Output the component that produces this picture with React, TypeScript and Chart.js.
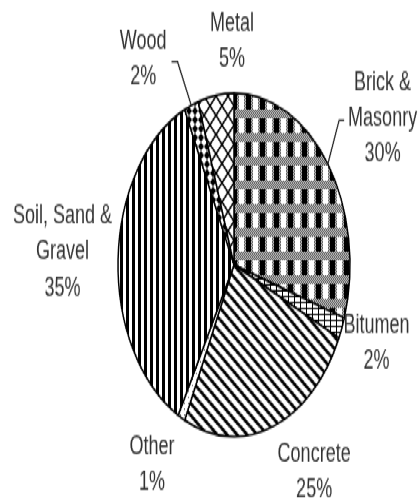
import { useEffect, useRef } from 'react';
import { Chart, registerables } from 'chart.js';

Chart.register(...registerables);

// ---- data ----
const categories = ['Brick & Masonry', 'Bitumen', 'Concrete', 'Other', 'Soil, Sand & Gravel', 'Wood', 'Metal'];
const values = [30, 2, 25, 1, 35, 2, 5];
const labelNames = [['Brick &', 'Masonry'], ['Bitumen'], ['Concrete'], ['Other'], ['Soil, Sand &', 'Gravel'], ['Wood'], ['Metal']];
const patternKinds = ['checker', 'grid', 'diag', 'dots', 'vert', 'diamond', 'trellis'];

// ---- label layout (degrees clockwise from 12 o'clock, multiple of radius) ----
const labelAngle = [56.3, 110.4, 150.2, 211.3, 272.9, 326.8, 359.2];
const labelDist = [1.54, 1.31, 1.39, 1.36, 1.48, 1.43, 1.3];
const leaderSide = [1, 0, 0, 0, 0, -1, 0];

const STRETCH = 1.48;
const W = 419;
const H = 340;
const RADIUS = 116;

function drawLineTiled(ctx: CanvasRenderingContext2D, w: number, h: number, x1: number, y1: number, x2: number, y2: number) {
  for (const dx of [-w, 0, w]) {
    for (const dy of [-h, 0, h]) {
      ctx.beginPath();
      ctx.moveTo(x1 + dx, y1 + dy);
      ctx.lineTo(x2 + dx, y2 + dy);
      ctx.stroke();
    }
  }
}

function makePattern(kind: string): CanvasPattern | string {
  const c = document.createElement('canvas');
  let w = 8;
  let h = 8;
  if (kind === 'checker') { w = 14; h = 16; }
  if (kind === 'grid') { w = 6; h = 4; }
  if (kind === 'diag') { w = 10; h = 8; }
  if (kind === 'dots') { w = 4; h = 4; }
  if (kind === 'vert') { w = 6; h = 4; }
  if (kind === 'diamond') { w = 6; h = 6; }
  if (kind === 'trellis') { w = 12; h = 13; }
  c.width = w;
  c.height = h;
  const ctx = c.getContext('2d');
  if (!ctx) return '#888';
  ctx.fillStyle = '#fff';
  ctx.fillRect(0, 0, w, h);
  ctx.fillStyle = '#000';
  ctx.strokeStyle = '#000';
  switch (kind) {
    case 'checker': {
      for (let y = 0; y < h; y++) {
        for (let x = 0; x < w; x++) {
          ctx.fillStyle = (x + y) % 2 ? '#4a4a4a' : '#d2d2d2';
          ctx.fillRect(x, y, 1, 1);
        }
      }
      ctx.fillStyle = '#fff';
      ctx.fillRect(1, 0, 5, 10);
      ctx.fillStyle = '#000';
      ctx.fillRect(8, 0, 5, 10);
      break;
    }
    case 'grid':
      ctx.fillRect(0, 0, w, 1);
      ctx.fillRect(0, 0, 1, h);
      break;
    case 'diag':
      ctx.lineWidth = 2.5;
      drawLineTiled(ctx, w, h, 0, 0, w, h);
      break;
    case 'dots':
      ctx.fillStyle = '#666';
      ctx.fillRect(0, 0, 1, 1);
      break;
    case 'vert':
      ctx.fillRect(0, 0, 3, h);
      break;
    case 'diamond':
      ctx.beginPath();
      ctx.moveTo(3, 0);
      ctx.lineTo(6, 3);
      ctx.lineTo(3, 6);
      ctx.lineTo(0, 3);
      ctx.closePath();
      ctx.fill();
      break;
    case 'trellis':
      ctx.lineWidth = 1.5;
      drawLineTiled(ctx, w, h, 0, 0, w, h);
      drawLineTiled(ctx, w, h, w, 0, 0, h);
      break;
  }
  return ctx.createPattern(c, 'repeat') || '#888';
}

const labelPlugin = {
  id: 'sliceLabels',
  afterDraw(chart: any) {
    const ctx: CanvasRenderingContext2D = chart.ctx;
    const meta = chart.getDatasetMeta(0);
    ctx.save();
    ctx.font = '18px "Liberation Sans", Arial, sans-serif';
    ctx.textAlign = 'center';
    ctx.textBaseline = 'middle';
    const lh = 24.3;
    meta.data.forEach((arc: any, i: number) => {
      const { x, y, startAngle, endAngle, outerRadius } = arc.getProps(['x', 'y', 'startAngle', 'endAngle', 'outerRadius'], true);
      const a = (labelAngle[i] * Math.PI) / 180 - Math.PI / 2;
      const cx = x + Math.cos(a) * outerRadius * labelDist[i];
      const cy = y + Math.sin(a) * outerRadius * labelDist[i];
      const lines = [...labelNames[i], `${values[i]}%`];
      const top = cy - ((lines.length - 1) * lh) / 2;
      ctx.fillStyle = '#333';
      lines.forEach((t, k) => ctx.fillText(t, cx, top + k * lh));
      if (leaderSide[i] !== 0) {
        const mid = (startAngle + endAngle) / 2;
        const px = x + Math.cos(mid) * outerRadius;
        const py = y + Math.sin(mid) * outerRadius;
        const maxW = Math.max(...lines.map((t) => ctx.measureText(t).width));
        let endX: number;
        let elbowX: number;
        if (leaderSide[i] > 0) {
          endX = cx - maxW / 2 - 4;
          elbowX = endX - 5;
        } else {
          endX = cx + maxW / 2 + 5;
          elbowX = endX + 6;
        }
        const ly = cy + 1.5;
        ctx.strokeStyle = '#222';
        ctx.lineWidth = 1.2;
        ctx.beginPath();
        ctx.moveTo(px, py);
        ctx.lineTo(elbowX, ly);
        ctx.lineTo(endX, ly);
        ctx.stroke();
      }
    });
    ctx.restore();
  },
};

export default function App() {
  const ref = useRef<HTMLCanvasElement>(null);
  useEffect(() => {
    if (!ref.current) return;
    const patterns = patternKinds.map((k) => makePattern(k));
    const chart = new Chart(ref.current, {
      type: 'pie',
      data: {
        labels: categories,
        datasets: [
          {
            data: values,
            backgroundColor: patterns as any,
            borderColor: '#000',
            borderWidth: 1.5,
            radius: RADIUS,
          } as any,
        ],
      },
      options: {
        responsive: false,
        animation: false,
        radius: RADIUS,
        events: [],
        layout: { padding: { left: 49, right: 0, top: 18, bottom: 0 } },
        plugins: { legend: { display: false }, tooltip: { enabled: false } },
      } as any,
      plugins: [labelPlugin],
    });
    return () => chart.destroy();
  }, []);
  return (
    <div
      style={{
        position: 'absolute',
        left: 0,
        top: 0,
        width: W,
        height: H,
        transform: `scaleY(${STRETCH})`,
        transformOrigin: '0 0',
        background: '#fff',
      }}
    >
      <canvas ref={ref} width={W} height={H} style={{ display: 'block', width: W, height: H }} />
    </div>
  );
}
